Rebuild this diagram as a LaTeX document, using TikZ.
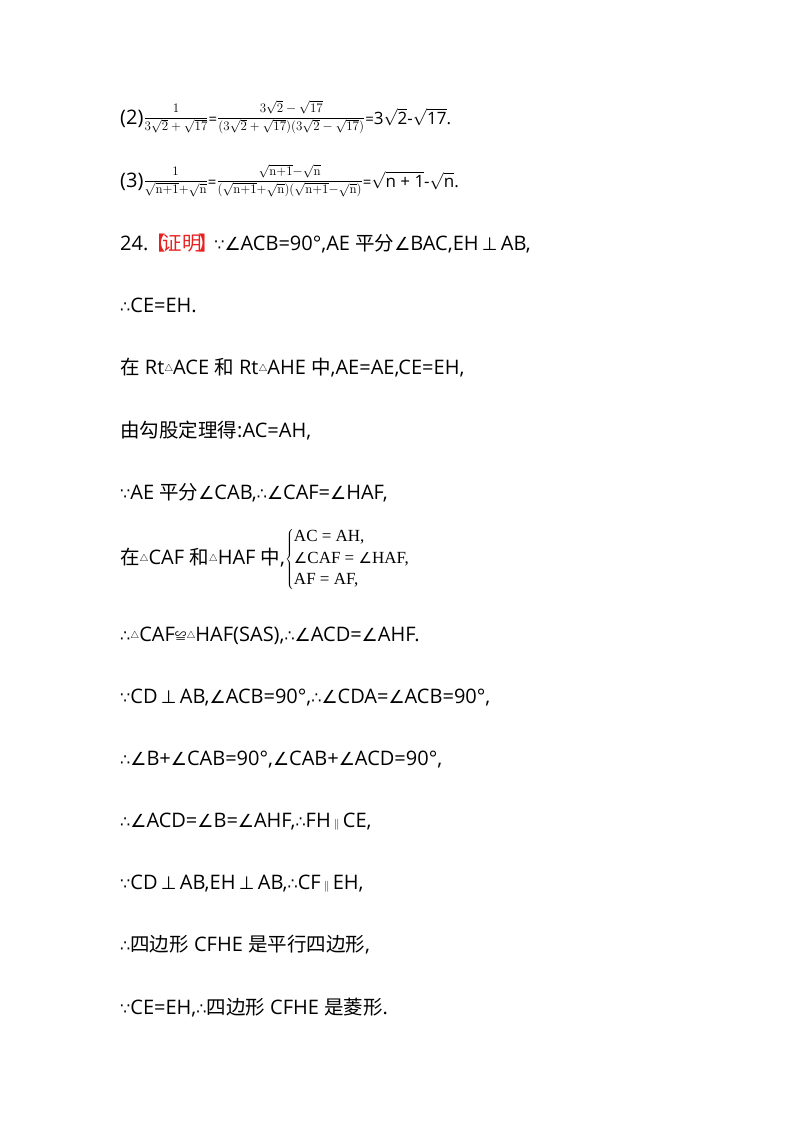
\RequirePackage{fix-cm}
\documentclass[tikz,border=0pt]{standalone}
\usepackage[no-math]{fontspec}
\setmainfont{Open Sans}
\newfontfamily\cjk[Scale=0.975]{Noto Sans CJK SC}
\newfontfamily\dv{DejaVu Sans}
\newfontfamily\ser{Liberation Serif}
\definecolor{hlred}{RGB}{232,32,32}
\newcommand{\C}[1]{{\cjk #1}}
\newcommand{\bec}{{\dv\fontsize{16}{16}\selectfont ∵}}
\newcommand{\thr}{{\dv\fontsize{16}{16}\selectfont ∴}}
\newcommand{\ang}{{\dv\fontsize{18}{18}\selectfont ∠}}
\newcommand{\sang}{{\dv\fontsize{15}{15}\selectfont ∠}}
\newcommand{\pp}{\,{\dv\fontsize{18}{18}\selectfont ⊥}\,}
\newcommand{\tri}{\raisebox{2.2pt}{\fontsize{10}{10}\selectfont$\triangle$}}
\newcommand{\pll}{\,\raisebox{0pt}{\fontsize{11}{11}\selectfont$\parallel$}\,}
\newcommand{\cng}{\raisebox{1pt}{\cjk\fontsize{12}{12}\selectfont ≌}}
\newcommand{\sfr}[2]{\raisebox{3pt}{\fontsize{13}{15}\selectfont$\displaystyle\frac{#1}{#2}$}}
\newcommand{\seq}{{\fontsize{15}{15}\selectfont=}}
\tikzset{
  line/.style={anchor=base west, inner sep=0pt, font=\fontsize{20}{24}\selectfont, text=black},
}
\begin{document}
\begin{tikzpicture}[x=1pt,y=-1pt]
\useasboundingbox[fill=white] (0,0) rectangle (800,1132);
\node[line] (f2) at (120,124) {(2)\sfr{\mathrm{1}}{3\sqrt{2}+\sqrt{17}}\seq\sfr{3\sqrt{2}-\sqrt{17}}{(3\sqrt{2}+\sqrt{17})(3\sqrt{2}-\sqrt{17})}\seq{\fontsize{17}{20}\selectfont 3$\sqrt{\mbox{2}}$-$\sqrt{\mbox{17}}$.}};
\node[line] (f3) at (120,187) {(3)\sfr{\mathrm{1}}{\sqrt{\mathrm{n}{+}1}{+}\sqrt{\mathrm{n}}}\seq\sfr{\sqrt{\mathrm{n}{+}1}{-}\sqrt{\mathrm{n}}}{(\sqrt{\mathrm{n}{+}1}{+}\sqrt{\mathrm{n}})(\sqrt{\mathrm{n}{+}1}{-}\sqrt{\mathrm{n}})}\seq{\fontsize{17}{20}\selectfont$\sqrt{\mbox{n + 1}}$-$\sqrt{\mbox{n}}$.}};
\node[line] (l24) at (120,250) {24.\textcolor{hlred}{\C{\hspace*{-2pt}【\hspace{-3pt}证明\hspace{-3pt}】}}\hspace{-4pt}\bec\ang ACB=90°,AE \C{平分}\ang BAC,EH\pp AB,};
\node[line] (l5) at (120,312) {\thr CE=EH.};
\node[line] (l6) at (120,374) {\C{在} Rt\tri ACE \C{和} Rt\tri AHE \C{中},AE=AE,CE=EH,};
\node[line] (l7) at (120,437) {\C{由勾股定理得}:AC=AH,};
\node[line] (l8) at (120,499) {\bec AE \C{平分}\ang CAB,\thr\ang CAF=\ang HAF,};
\node[line] (l9) at (120,564) {\C{在}\tri CAF \C{和}\tri HAF \C{中},$\left\{\vcenter{\hbox{\ser\fontsize{17}{21.5}\selectfont\begin{tabular}{@{}l@{}}AC = AH,\\ \sang CAF = \sang HAF,\\ AF = AF,\end{tabular}}}\right.$};
\node[line] (l10) at (120,641) {\thr\tri CAF\cng\tri HAF(SAS),\thr\ang ACD=\ang AHF.};
\node[line] (l11) at (120,703) {\bec CD\pp AB,\ang ACB=90°,\thr\ang CDA=\ang ACB=90°,};
\node[line] (l12) at (120,765) {\thr\ang B+\ang CAB=90°,\ang CAB+\ang ACD=90°,};
\node[line] (l13) at (120,827) {\thr\ang ACD=\ang B=\ang AHF,\thr FH\pll CE,};
\node[line] (l14) at (120,889) {\bec CD\pp AB,EH\pp AB,\thr CF\pll EH,};
\node[line] (l15) at (120,951) {\thr\C{四边形} CFHE \C{是平行四边形},};
\node[line] (l16) at (120,1014) {\bec CE=EH,\thr\C{四边形} CFHE \C{是菱形}.};
\end{tikzpicture}
\end{document}
